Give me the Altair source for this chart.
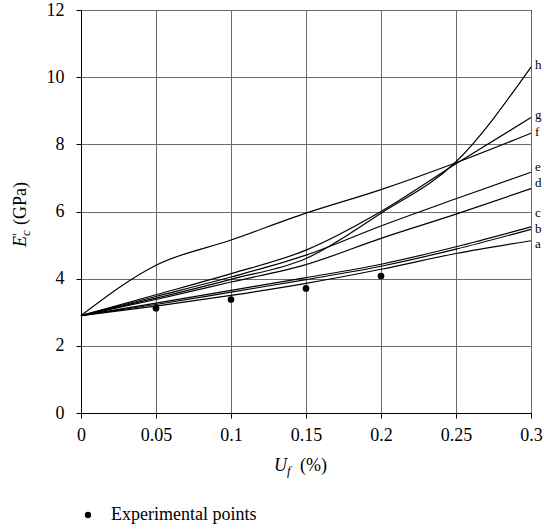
import altair as alt
import pandas as pd

# ---- data ----
x_vals = [0, 0.05, 0.1, 0.15, 0.2, 0.25, 0.3]
curve_a = [2.9, 3.18, 3.50, 3.86, 4.28, 4.75, 5.13]
curve_b = [2.9, 3.23, 3.60, 3.97, 4.37, 4.88, 5.47]
curve_c = [2.9, 3.27, 3.65, 4.03, 4.43, 4.95, 5.54]
curve_d = [2.9, 3.38, 3.90, 4.42, 5.20, 5.92, 6.68]
curve_e = [2.9, 3.47, 4.05, 4.70, 5.57, 6.38, 7.17]
curve_f = [2.9, 4.40, 5.15, 5.95, 6.65, 7.45, 8.33]
curve_g = [2.9, 3.52, 4.15, 4.85, 6.00, 7.42, 8.80]
curve_h = [2.9, 3.42, 3.98, 4.60, 5.95, 7.48, 10.30]

exp_x = [0.05, 0.1, 0.15, 0.2]
exp_y = [3.12, 3.38, 3.71, 4.08]

label_names = ["a", "b", "c", "d", "e", "f", "g", "h"]
label_y = [5.03, 5.49, 5.95, 6.85, 7.32, 8.38, 8.88, 10.35]

x_ticks = [0, 0.05, 0.1, 0.15, 0.2, 0.25, 0.3]
y_ticks = [0, 2, 4, 6, 8, 10, 12]

FONT = "Liberation Serif"
FS = 18

curves = [curve_a, curve_b, curve_c, curve_d, curve_e, curve_f, curve_g, curve_h]
rows = []
for name, ys in zip(label_names, curves):
    for xv, yv in zip(x_vals, ys):
        rows.append({"series": name, "x": xv, "y": yv})
lines_df = pd.DataFrame(rows)

exp_df = pd.DataFrame({"x": exp_x, "y": exp_y, "kind": ["Experimental points"] * len(exp_x)})
lab_df = pd.DataFrame({"x": [0.3] * len(label_names), "y": label_y, "label": label_names})

xscale = alt.Scale(domain=[0, 0.3], nice=False, zero=False)
yscale = alt.Scale(domain=[0, 12], nice=False)

xaxis = alt.Axis(values=x_ticks, format="~g", title=None, grid=True, gridColor="#6a6a6a",
                 gridWidth=1, domainColor="black", tickColor="black", tickSize=5,
                 labelFont=FONT, labelFontSize=FS, labelColor="black", labelPadding=8,
                 labelFlush=False)
yaxis = alt.Axis(values=y_ticks, title=None, grid=True, gridColor="#6a6a6a", gridWidth=1,
                 domainColor="black", tickColor="black", tickSize=5, labelFont=FONT,
                 labelFontSize=FS, labelColor="black", labelPadding=12)

lines = alt.Chart(lines_df).mark_line(interpolate="monotone", color="black", strokeWidth=1.2).encode(
    x=alt.X("x:Q", scale=xscale, axis=xaxis),
    y=alt.Y("y:Q", scale=yscale, axis=yaxis),
    detail="series:N",
)

points = alt.Chart(exp_df).mark_point(filled=True, size=45, opacity=1).encode(
    x=alt.X("x:Q", scale=xscale),
    y=alt.Y("y:Q", scale=yscale),
    color=alt.Color("kind:N", scale=alt.Scale(range=["black"]),
                    legend=alt.Legend(orient="none", legendX=-2, legendY=496, title=None,
                                      labelFont=FONT, labelFontSize=FS, labelColor="black",
                                      symbolSize=40, symbolType="circle", labelOffset=14,
                                      symbolStrokeWidth=0)),
)

labels = alt.Chart(lab_df).mark_text(align="left", baseline="middle", dx=4, font=FONT,
                                     fontSize=13, color="black").encode(
    x=alt.X("x:Q", scale=xscale),
    y=alt.Y("y:Q", scale=yscale),
    text="label:N",
)

one = pd.DataFrame({"k": [0]})

def txt(s, x, y, size=FS, style="normal", angle=0):
    kw = dict(align="left", baseline="alphabetic", font=FONT, fontSize=size,
              fontStyle=style, color="black")
    if angle:
        kw["angle"] = angle
    return alt.Chart(one).mark_text(**kw).encode(x=alt.value(x), y=alt.value(y), text=alt.value(s))

# x title: U_f (%)
xt = [txt("U", 193, 461, style="italic"),
      txt("f", 206, 465, size=13, style="italic"),
      txt("(%)", 219, 461)]
# y title: E'_c (GPa), rotated
yt = [txt("E", -55, 237, style="italic", angle=270),
      txt("\u2032", -58, 226, size=14, angle=270),
      txt("c", -51, 226, size=13, style="italic", angle=270),
      txt("(GPa)", -55, 215, angle=270)]

chart = alt.layer(lines, points, labels, *xt, *yt).properties(
    width=450, height=403,
    padding={"left": 81, "top": 10, "right": 13, "bottom": 118},
    autosize=alt.AutoSizeParams(type="none"),
).configure(background="white", font=FONT).configure_view(
    stroke="black", strokeWidth=1
).configure_axis(labelFont=FONT).configure_legend(labelFont=FONT).configure_text(font=FONT)

chart.save("out.html", embed_options={"renderer": "svg", "actions": False})
